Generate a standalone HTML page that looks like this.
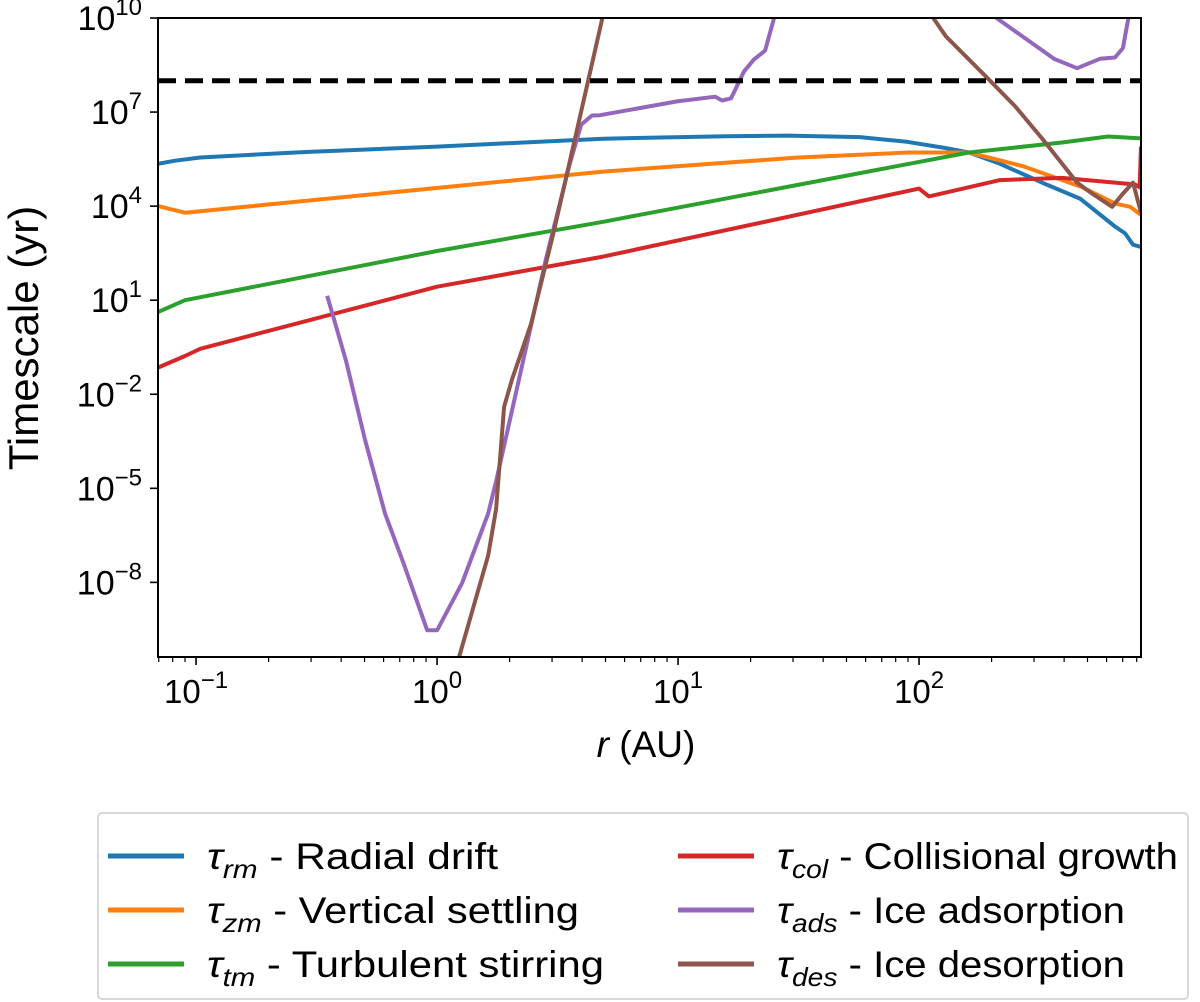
<!DOCTYPE html>
<html><head><meta charset="utf-8"><style>
html,body{margin:0;padding:0;background:#fff;}
svg{display:block;font-family:"Liberation Sans","DejaVu Sans",sans-serif;}
</style></head><body>
<svg id="chart" width="1200" height="1002" viewBox="0 0 1200 1002" xmlns="http://www.w3.org/2000/svg">
<defs><clipPath id="plotclip"><rect x="158" y="18" width="983" height="639"/></clipPath></defs>
<g id="plot" clip-path="url(#plotclip)"></g>
<rect x="158" y="18" width="983" height="639" fill="none" stroke="#000" stroke-width="2"/>
<g id="axes"></g>
<text x="646" y="757" font-size="37" text-anchor="middle"><tspan font-style="italic">r</tspan> (AU)</text>
<text transform="translate(38,338) rotate(-90)" font-size="42" text-anchor="middle">Timescale (yr)</text>
<g id="legend">
<rect x="98" y="813" width="1090" height="186" rx="4" fill="#fff" stroke="#ccc" stroke-width="1.5"/>
</g>
</svg>
<script>
// data: log10(r / AU) and log10(timescale / yr)
const xDomainLog = [-1.158, 2.921];
const yDomainLog = [-10.38, 10];
const xTickExps = [-1, 0, 1, 2];
const yTickExps = [-8, -5, -2, 1, 4, 7, 10];
const horizonLogT = 8.0;

const driftLogR = [-1.158,-1.087,-0.983,-0.568,0,0.689,1.2,1.456,1.755,1.95,2.112,2.207,2.336,2.51,2.668,2.813,2.855,2.888,2.921];
const driftLogT = [5.35,5.45,5.55,5.72,5.9,6.15,6.23,6.25,6.2,6.05,5.85,5.71,5.35,4.75,4.24,3.35,3.13,2.77,2.7];

const settleLogR = [-1.158,-1.046,0.689,1.5,1.954,2.207,2.432,2.672,2.813,2.876,2.921];
const settleLogT = [4.0,3.79,5.1,5.55,5.71,5.71,5.27,4.62,4.08,3.98,3.72];

const stirLogR = [-1.158,-1.046,0,0.689,2.207,2.593,2.784,2.921];
const stirLogT = [0.62,1.0,2.57,3.5,5.71,6.03,6.22,6.16];

const colLogR = [-1.158,-1.046,-0.983,0,0.689,2.0,2.041,2.336,2.593,2.813,2.896,2.915,2.921];
const colLogT = [-1.15,-0.78,-0.55,1.43,2.39,4.56,4.31,4.83,4.9,4.75,4.69,4.6,5.9];

const adsLogR = [-0.456,-0.378,-0.299,-0.216,-0.137,-0.041,0,0.104,0.212,0.245,0.452,0.548,0.598,0.643,0.676,0.996,1.154,1.183,1.22,1.274,1.315,1.361,1.402,null,2.303,2.56,2.656,2.751,2.813,2.846,2.871];
const adsLogT = [1.14,-0.93,-3.45,-5.8,-7.44,-9.53,-9.53,-8.02,-5.8,-4.78,2.32,5.27,6.6,6.89,6.9,7.34,7.49,7.37,7.44,8.3,8.68,8.96,10.1,null,10.1,8.7,8.4,8.7,8.74,9.04,10.1];

const desLogR = [0.087,0.212,0.245,0.278,0.311,0.39,0.485,0.581,0.689,null,2.05,2.112,2.274,2.398,2.51,2.656,2.718,2.801,2.846,2.888,2.921];
const desLogT = [-10.5,-7.14,-5.66,-2.4,-1.53,0.25,3.2,6.45,10.1,null,10.1,9.41,8.16,7.19,6.16,4.75,4.4,3.98,4.4,4.75,3.79];

const seriesNames = ["radial-drift","vertical-settling","turbulent-stirring","collisional-growth","ice-adsorption","ice-desorption"];
const seriesColors = ["#1f77b4","#ff7f0e","#2ca02c","#d62728","#9467bd","#8c564b"];
const seriesSubs = ["rm","zm","tm","col","ads","des"];
const seriesLabels = ["Radial drift","Vertical settling","Turbulent stirring","Collisional growth","Ice adsorption","Ice desorption"];
const legendWidths = [291,372,397,401,348,348];

const X0=158, X1=1141, Y0=18, Y1=657;
function xScale(l){return X0+(l-xDomainLog[0])/(xDomainLog[1]-xDomainLog[0])*(X1-X0);}
function yScale(l){return Y1-(l-yDomainLog[0])/(yDomainLog[1]-yDomainLog[0])*(Y1-Y0);}
const NS="http://www.w3.org/2000/svg";
function mk(tag,attrs,parent){const e=document.createElementNS(NS,tag);for(const k in attrs)e.setAttribute(k,attrs[k]);parent.appendChild(e);return e;}

const plot=document.getElementById('plot');
const allR=[driftLogR,settleLogR,stirLogR,colLogR,adsLogR,desLogR];
const allT=[driftLogT,settleLogT,stirLogT,colLogT,adsLogT,desLogT];
allR.forEach((rs,i)=>{
  let d="",pen=false;
  rs.forEach((r,j)=>{
    if(r===null){pen=false;return;}
    d+=(pen?"L":"M")+xScale(r).toFixed(1)+" "+yScale(allT[i][j]).toFixed(1)+" ";pen=true;
  });
  const p=mk('path',{d:d,fill:"none",stroke:seriesColors[i],"stroke-width":4,"stroke-linejoin":"round"},plot);
  
  
});
const hl=mk('line',{x1:X0,x2:X1,y1:yScale(horizonLogT),y2:yScale(horizonLogT),stroke:"#000","stroke-width":5,"stroke-dasharray":"18 9"},plot);



const axes=document.getElementById('axes');
xTickExps.forEach(e=>{
  const x=xScale(e);
  const t=mk('line',{x1:x,x2:x,y1:Y1,y2:Y1+8,stroke:"#000","stroke-width":1.6},axes);
  
  
  const lab=mk('text',{x:x,y:Y1+46,"font-size":33,"text-anchor":"middle"},axes);
  
  
  lab.innerHTML='10<tspan dy="-15" font-size="24">'+(e<0?'\u2212'+(-e):e)+'</tspan>';
});
for(let d=-2;d<=2;d++){for(let m=2;m<=9;m++){const l=d+Math.log10(m);if(l<xDomainLog[0]||l>xDomainLog[1])continue;
  const t=mk('line',{x1:xScale(l),x2:xScale(l),y1:Y1,y2:Y1+5,stroke:"#000","stroke-width":1.2},axes);
  
  
}}
yTickExps.forEach(e=>{
  const y=yScale(e);
  const t=mk('line',{x1:X0-8,x2:X0,y1:y,y2:y,stroke:"#000","stroke-width":1.6},axes);
  
  
  const lab=mk('text',{x:X0-16,y:y+12,"font-size":34,"text-anchor":"end"},axes);
  
  
  lab.innerHTML='10<tspan dy="-15" font-size="24">'+(e<0?'\u2212'+(-e):e)+'</tspan>';
});

const legend=document.getElementById('legend');
seriesNames.forEach((n,i)=>{
  const col=Math.floor(i/3), row=i%3;
  const lx=col?678:108, ly=856+row*54;
  const ln=mk('line',{x1:lx,x2:lx+76,y1:ly,y2:ly,stroke:seriesColors[i],"stroke-width":5},legend);
  
  
  const tx=mk('text',{x:lx+99,y:ly+13,"font-size":37,textLength:legendWidths[i],lengthAdjust:"spacingAndGlyphs"},legend);
  
  
  tx.innerHTML='<tspan font-style="italic">\u03c4</tspan><tspan font-style="italic" font-size="26" dy="9">'+seriesSubs[i]+'</tspan><tspan dy="-9"> - '+seriesLabels[i]+'</tspan>';
});
</script>
</body></html>
